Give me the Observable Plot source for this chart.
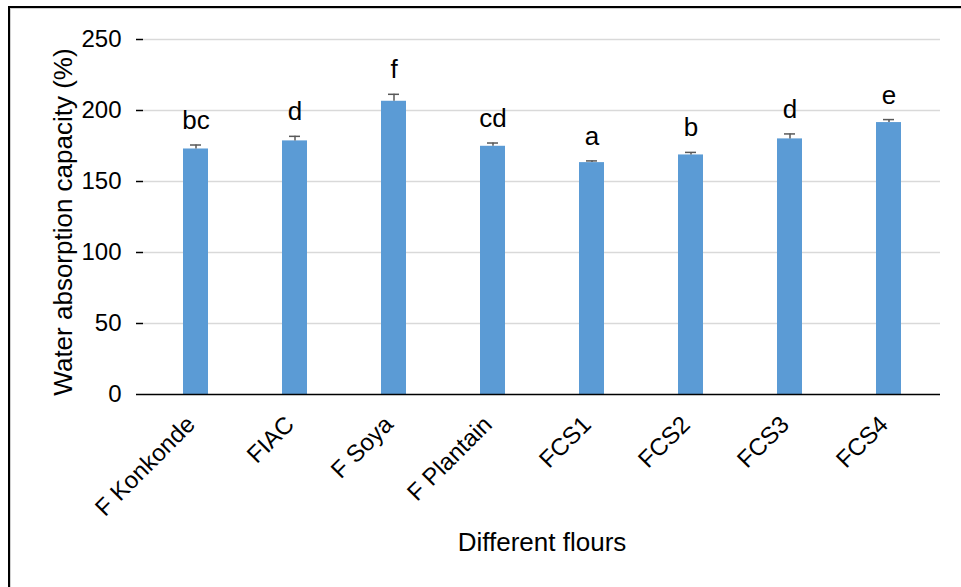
<!DOCTYPE html>
<html>
<head>
<meta charset="utf-8">
<script src="https://cdn.jsdelivr.net/npm/d3@7"></script>
<script src="https://cdn.jsdelivr.net/npm/@observablehq/plot@0.6"></script>
<style>
  html, body { margin: 0; padding: 0; background: #fff; }
  #wrap { position: relative; width: 961px; height: 587px; overflow: hidden; }
  #frame { position: absolute; left: 8px; top: 6px; width: 970px; height: 600px;
           border-left: 2px solid #000; border-top: 2px solid #000; box-shadow: 1px 1px 0 #d0d0d0 inset; }
  #chart { position: absolute; left: 0; top: 0; }
</style>
</head>
<body>
<div id="wrap"><div id="frame"></div><div id="chart"></div></div>
<script>
const flours = ["F Konkonde", "FIAC", "F Soya", "F Plantain", "FCS1", "FCS2", "FCS3", "FCS4"];
const values = [172.9, 178.6, 206.5, 174.8, 163.3, 168.7, 180.0, 191.5];
const errors = [2.8, 3.2, 4.9, 2.3, 1.2, 1.8, 3.5, 2.1];
const letters = ["bc", "d", "f", "cd", "a", "b", "d", "e"];
const yTicks = [0, 50, 100, 150, 200, 250];

const data = flours.map((f, i) => ({flour: f, value: values[i], err: errors[i], letter: letters[i], top: values[i] + errors[i]}));

const font = "Liberation Sans, Arial, sans-serif";

const plot = Plot.plot({
  width: 961,
  height: 587,
  marginLeft: 143,
  marginRight: 21,
  marginTop: 39,
  marginBottom: 193,
  style: {fontFamily: font, fontSize: "24px", color: "#000", background: "transparent", overflow: "visible"},
  x: {domain: flours, paddingInner: 0.75, paddingOuter: 0.375, label: null},
  y: {domain: [0, 250], ticks: yTicks, label: null},
  marks: [
    Plot.gridY(yTicks.filter(t => t > 0), {stroke: "#d9d9d9", strokeOpacity: 1, strokeWidth: 1.5}),
    Plot.barY(data, {x: "flour", y: "value", fill: "#5B9BD5"}),
    Plot.ruleX(data, {x: "flour", y1: "value", y2: "top", stroke: "#595959", strokeWidth: 1.5}),
    Plot.tickY(data, {x: "flour", y: "top", stroke: "#595959", strokeWidth: 1.5, insetLeft: 7, insetRight: 7}),
    Plot.text(data, {x: "flour", y: "top", text: "letter", lineAnchor: "bottom", dy: -16, fontSize: 26, fill: "#000"}),
    Plot.axisY({ticks: yTicks, tickSize: 7, tickPadding: 15, stroke: "#000", strokeWidth: 1.5, fontSize: 24, label: null}),
    Plot.ruleX([0], {frameAnchor: "left", stroke: "#000", strokeWidth: 1.5}),
    Plot.ruleY([0], {stroke: "#000", strokeWidth: 1.5}),
    Plot.axisX({tickSize: 0, tickPadding: 26, dx: -5, tickRotate: -45, fontSize: 24, label: null}),
    Plot.text(["Water absorption capacity (%)"], {frameAnchor: "left", textAnchor: "middle", dx: -80, dy: 5, rotate: -90, fontSize: 26, fill: "#000", text: d => d}),
    Plot.text(["Different flours"], {frameAnchor: "bottom", dy: 156, fontSize: 26, fill: "#000", text: d => d})
  ]
});
document.getElementById("chart").appendChild(plot);
</script>
</body>
</html>
